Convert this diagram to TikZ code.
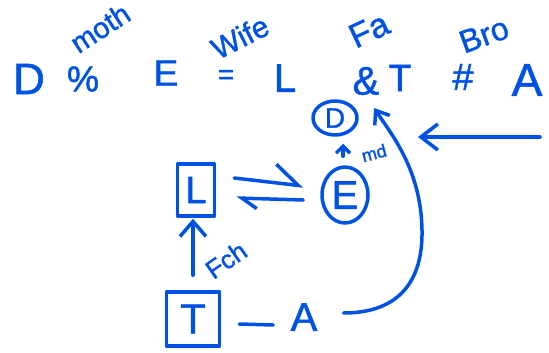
\documentclass[tikz,border=0pt]{standalone}
\usepackage{fontspec}
\setmainfont{Liberation Sans}[FakeBold=1.2]
\usetikzlibrary{arrows.meta,shapes.geometric,calc}
\definecolor{ink}{RGB}{0,82,229}
\begin{document}
\begin{tikzpicture}[x=1pt,y=-1pt,
  pen/.style={draw=ink, line width=3.5pt, line cap=round, line join=round},
  txt/.style={text=ink, inner sep=0pt, font=\fontsize{#1}{#1}\selectfont},
]
\useasboundingbox (0,0) rectangle (549,353);
% top row
\node[txt=44] (tD) at (29,79) {D};
\node[txt=36] (tPct) at (83,79) {\%};
\node[txt=37] (tE) at (166,73) {E};
\node[txt=28] (tEq) at (226,77) {=};
\node[txt=40] (tL) at (285,78) {L};
\node[txt=40] (tAmp) at (366,81) {\&};
\node[txt=38] (tT) at (400,78) {T};
\node[txt=38] (tHash) at (463,77) {\#};
\node[txt=46] (tA) at (527,80) {A};
% rotated labels
\node[txt=29, rotate=33] (lMoth) at (100,28) {moth};
\node[txt=30, rotate=27] (lWife) at (240,37) {Wife};
\node[txt=34, rotate=25] (lFa) at (369,30) {Fa};
\node[txt=32, rotate=20] (lBro) at (484,35) {Bro};
% shapes
\node[pen, ellipse, minimum width=44pt, minimum height=34pt, txt=28] (cD) at (335,118) {D};
\node[pen, ellipse, minimum width=46pt, minimum height=56pt, txt=40] (cE) at (345,195) {E};
\node[pen, rectangle, minimum width=37pt, minimum height=52pt, txt=38] (bL) at (196,190) {L};
\node[pen, rectangle, minimum width=53pt, minimum height=54pt, txt=42] (bT) at (193,319) {T};
\node[txt=40] (nA) at (304,317) {A};
\node[txt=18, rotate=15] (lmd) at (374,153) {md};
\node[txt=26, rotate=35] (lFch) at (226,260) {Fch};
% connectors
\draw[pen, -{Straight Barb[length=7pt,width=14pt]}] ($(cE.north)+(-2,-9)$) -- ($(cD.south)+(8,7)$);
\draw[pen, -{Straight Barb[length=15pt,width=26pt]}] ($(bT.north)+(0,-15)$) -- ($(bT.north |- bL.south)+(0,1)$);
\draw[pen, -{Straight Barb[left,length=24pt,width=37pt]}] ($(bL.east)+(18,-12)$) -- ($(cE.west)+(-17,-9)$);
\draw[pen, -{Straight Barb[left,length=15pt,width=20pt]}] ($(cE.west)+(-17,5)$) -- ($(bL.east)+(20,8)$);
\draw[pen] ($(bT.east)+(18,5)$) -- ($(bT.east)+(52,6)$);
\coordinate (cs) at ($(nA.east)+(26,-4)$);
\coordinate (ce) at (374,108);
\draw[pen, -{Straight Barb[length=12pt,width=18pt]}] (cs) .. controls (400,313) and (423,280) .. (422,230) .. controls (421,170) and (392,135) .. (ce);
\coordinate (ls) at (540,137);
\coordinate (le) at (418,137);
\draw[pen, -{Straight Barb[length=17pt,width=26pt]}] (ls) -- (le);
\end{tikzpicture}
\end{document}
